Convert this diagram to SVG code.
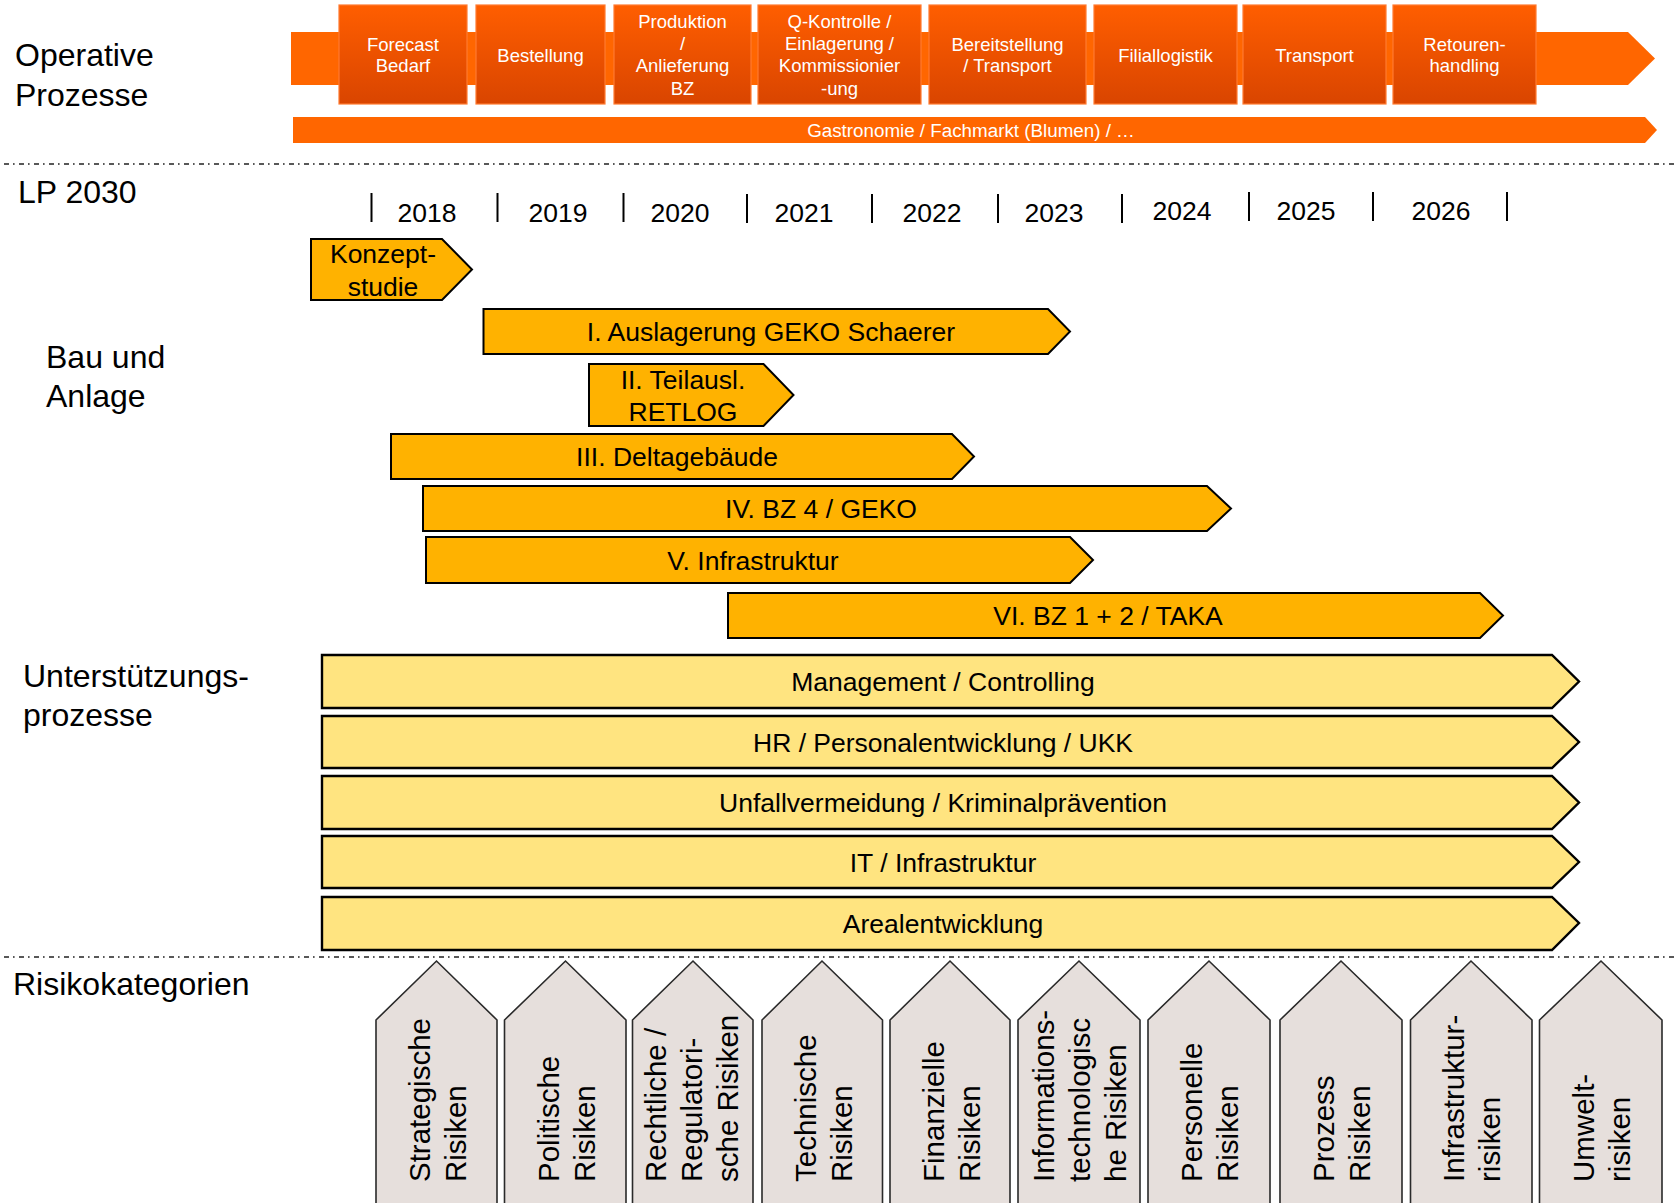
<svg xmlns="http://www.w3.org/2000/svg" width="1674" height="1203" viewBox="0 0 1674 1203">
  <defs>
    <linearGradient id="boxGrad" x1="0" y1="0" x2="0" y2="1">
      <stop offset="0" stop-color="#FF5E00"/>
      <stop offset="1" stop-color="#D94500"/>
    </linearGradient>
    <style>
      text { font-family: "Liberation Sans", Arial, sans-serif; fill: #000; }
      .label { font-size: 32px; }
      .year { font-size: 26.5px; text-anchor: middle; }
      .tick { stroke: #000; stroke-width: 2; }
      .sep { stroke: #222; stroke-width: 1.6; stroke-dasharray: 5 4 1.6 4.4; fill: none; }
      .band { fill: #FF6600; }
      .box { fill: url(#boxGrad); stroke: #FF7A30; stroke-width: 1.2; }
      .boxtxt { font-size: 18.5px; fill: #fff; text-anchor: middle; }
      .gastro { font-size: 18.8px; fill: #fff; text-anchor: middle; }
      .bau { fill: #FFB200; stroke: #000; stroke-width: 2; }
      .sup { fill: #FFE480; stroke: #000; stroke-width: 2.4; }
      .bartxt { font-size: 26.5px; text-anchor: middle; }
      .risk { fill: #E6DFDC; stroke: #2a2a2a; stroke-width: 1.6; }
      .risktxt { font-size: 29.5px; }
    </style>
  </defs>

  <rect width="1674" height="1203" fill="#fff"/>

  <!-- section labels -->
  <g id="section-labels">
    <text class="label" x="15" y="66">Operative</text>
    <text class="label" x="15" y="106">Prozesse</text>
    <text class="label" x="18" y="203">LP 2030</text>
    <text class="label" x="46" y="368">Bau und</text>
    <text class="label" x="46" y="407">Anlage</text>
    <text class="label" x="23" y="687">Unterstützungs-</text>
    <text class="label" x="23" y="726">prozesse</text>
    <text class="label" x="13" y="995">Risikokategorien</text>
  </g>

  <!-- operative process chain -->
  <g id="process-band">
    <polygon class="band" points="291,32 1628,32 1655,58.5 1628,85 291,85"/>
  </g>
  <g id="p-forecast">
    <rect class="box" x="339" y="5" width="128" height="99"/>
    <text class="boxtxt" x="403" y="50.5">Forecast</text>
    <text class="boxtxt" x="403" y="72">Bedarf</text>
  </g>
  <g id="p-bestellung">
    <rect class="box" x="476" y="5" width="129" height="99"/>
    <text class="boxtxt" x="540.5" y="61.5">Bestellung</text>
  </g>
  <g id="p-produktion">
    <rect class="box" x="614" y="5" width="137" height="99"/>
    <text class="boxtxt" x="682.5" y="28">Produktion</text>
    <text class="boxtxt" x="682.5" y="49.5">/</text>
    <text class="boxtxt" x="682.5" y="72">Anlieferung</text>
    <text class="boxtxt" x="682.5" y="94.5">BZ</text>
  </g>
  <g id="p-qkontrolle">
    <rect class="box" x="758" y="5" width="163" height="99"/>
    <text class="boxtxt" x="839.5" y="28">Q-Kontrolle /</text>
    <text class="boxtxt" x="839.5" y="49.5">Einlagerung /</text>
    <text class="boxtxt" x="839.5" y="72">Kommissionier</text>
    <text class="boxtxt" x="839.5" y="94.5">-ung</text>
  </g>
  <g id="p-bereitstellung">
    <rect class="box" x="929" y="5" width="157" height="99"/>
    <text class="boxtxt" x="1007.5" y="50.5">Bereitstellung</text>
    <text class="boxtxt" x="1007.5" y="72">/ Transport</text>
  </g>
  <g id="p-filiallogistik">
    <rect class="box" x="1094" y="5" width="143" height="99"/>
    <text class="boxtxt" x="1165.5" y="61.5">Filiallogistik</text>
  </g>
  <g id="p-transport">
    <rect class="box" x="1243" y="5" width="143" height="99"/>
    <text class="boxtxt" x="1314.5" y="61.5">Transport</text>
  </g>
  <g id="p-retouren">
    <rect class="box" x="1393" y="5" width="143" height="99"/>
    <text class="boxtxt" x="1464.5" y="50.5">Retouren-</text>
    <text class="boxtxt" x="1464.5" y="72">handling</text>
  </g>
  <g id="p-gastronomie">
    <polygon class="band" points="293,117 1645,117 1657,130 1645,143 293,143"/>
    <text class="gastro" x="971" y="136.5">Gastronomie / Fachmarkt (Blumen) / …</text>
  </g>

  <!-- section separators -->
  <g id="separators">
    <line class="sep" x1="4" y1="164" x2="1674" y2="164"/>
    <line class="sep" x1="4" y1="957" x2="1674" y2="957"/>
  </g>

  <!-- timeline -->
  <g id="timeline">
    <line class="tick" x1="371.5" y1="193" x2="371.5" y2="222"/>
    <line class="tick" x1="497.5" y1="193" x2="497.5" y2="222"/>
    <line class="tick" x1="623.5" y1="193" x2="623.5" y2="222"/>
    <line class="tick" x1="747" y1="194" x2="747" y2="223" stroke-width="3"/>
    <line class="tick" x1="872" y1="194" x2="872" y2="223"/>
    <line class="tick" x1="998" y1="194" x2="998" y2="223"/>
    <line class="tick" x1="1122" y1="194" x2="1122" y2="223"/>
    <line class="tick" x1="1249" y1="192" x2="1249" y2="221"/>
    <line class="tick" x1="1373" y1="192" x2="1373" y2="221"/>
    <line class="tick" x1="1507" y1="192" x2="1507" y2="221"/>
    <text class="year" x="427" y="222">2018</text>
    <text class="year" x="558" y="222">2019</text>
    <text class="year" x="680" y="222">2020</text>
    <text class="year" x="804" y="222">2021</text>
    <text class="year" x="932" y="222">2022</text>
    <text class="year" x="1054" y="222">2023</text>
    <text class="year" x="1182" y="220">2024</text>
    <text class="year" x="1306" y="220">2025</text>
    <text class="year" x="1441" y="220">2026</text>
  </g>

  <!-- construction projects -->
  <g id="bau-konzeptstudie">
    <polygon class="bau" points="311,239 442,239 472,269.5 442,300 311,300"/>
    <text class="bartxt" x="383" y="263">Konzept-</text>
    <text class="bartxt" x="383" y="296">studie</text>
  </g>
  <g id="bau-auslagerung">
    <polygon class="bau" points="483.5,309 1048,309 1070,331.5 1048,354 483.5,354"/>
    <text class="bartxt" x="771" y="341">I. Auslagerung GEKO Schaerer</text>
  </g>
  <g id="bau-retlog">
    <polygon class="bau" points="589,364 763.5,364 793.5,395 763.5,426 589,426"/>
    <text class="bartxt" x="683" y="389">II. Teilausl.</text>
    <text class="bartxt" x="683" y="420.5">RETLOG</text>
  </g>
  <g id="bau-deltagebaeude">
    <polygon class="bau" points="391,434 952,434 974,456.5 952,479 391,479"/>
    <text class="bartxt" x="677" y="465.5">III. Deltagebäude</text>
  </g>
  <g id="bau-bz4">
    <polygon class="bau" points="423,486 1207,486 1231,508.5 1207,531 423,531"/>
    <text class="bartxt" x="821" y="518">IV. BZ 4 / GEKO</text>
  </g>
  <g id="bau-infrastruktur">
    <polygon class="bau" points="426,537 1070,537 1093,560 1070,583 426,583"/>
    <text class="bartxt" x="753" y="570">V. Infrastruktur</text>
  </g>
  <g id="bau-bz12">
    <polygon class="bau" points="728,593 1480,593 1503,615.5 1480,638 728,638"/>
    <text class="bartxt" x="1108" y="625">VI. BZ 1 + 2 / TAKA</text>
  </g>

  <!-- support processes -->
  <g id="sup-management">
    <polygon class="sup" points="322,655 1552,655 1579,681.5 1552,708 322,708"/>
    <text class="bartxt" x="943" y="691">Management / Controlling</text>
  </g>
  <g id="sup-hr">
    <polygon class="sup" points="322,716 1552,716 1579,742 1552,768 322,768"/>
    <text class="bartxt" x="943" y="751.5">HR / Personalentwicklung / UKK</text>
  </g>
  <g id="sup-unfall">
    <polygon class="sup" points="322,776 1552,776 1579,802.5 1552,829 322,829"/>
    <text class="bartxt" x="943" y="812">Unfallvermeidung / Kriminalprävention</text>
  </g>
  <g id="sup-it">
    <polygon class="sup" points="322,836 1552,836 1579,862 1552,888 322,888"/>
    <text class="bartxt" x="943" y="871.5">IT / Infrastruktur</text>
  </g>
  <g id="sup-areal">
    <polygon class="sup" points="322,897 1552,897 1579,923 1552,950 322,950"/>
    <text class="bartxt" x="943" y="933">Arealentwicklung</text>
  </g>

  <!-- risk categories: upward pointing tags, text reads bottom to top -->
  <g id="risk-strategisch">
    <path class="risk" d="M376,1210 V1020 L436.5,961 L497,1020 V1210"/>
    <text class="risktxt" transform="translate(430,1182) rotate(-90)">Strategische</text>
    <text class="risktxt" transform="translate(466,1182) rotate(-90)">Risiken</text>
  </g>
  <g id="risk-politisch">
    <path class="risk" d="M504.5,1210 V1020 L565.5,961 L626,1020 V1210"/>
    <text class="risktxt" transform="translate(559,1182) rotate(-90)">Politische</text>
    <text class="risktxt" transform="translate(595,1182) rotate(-90)">Risiken</text>
  </g>
  <g id="risk-rechtlich">
    <path class="risk" d="M632.5,1210 V1020 L693,961 L753,1020 V1210"/>
    <text class="risktxt" transform="translate(666,1182) rotate(-90)">Rechtliche /</text>
    <text class="risktxt" transform="translate(702,1182) rotate(-90)">Regulatori-</text>
    <text class="risktxt" transform="translate(738,1182) rotate(-90)">sche Risiken</text>
  </g>
  <g id="risk-technisch">
    <path class="risk" d="M762,1210 V1020 L822,961 L882.5,1020 V1210"/>
    <text class="risktxt" transform="translate(816,1182) rotate(-90)">Technische</text>
    <text class="risktxt" transform="translate(852,1182) rotate(-90)">Risiken</text>
  </g>
  <g id="risk-finanziell">
    <path class="risk" d="M890,1210 V1020 L950,961 L1010,1020 V1210"/>
    <text class="risktxt" transform="translate(944,1182) rotate(-90)">Finanzielle</text>
    <text class="risktxt" transform="translate(980,1182) rotate(-90)">Risiken</text>
  </g>
  <g id="risk-it">
    <path class="risk" d="M1018,1210 V1020 L1079,961 L1140,1020 V1210"/>
    <text class="risktxt" transform="translate(1054,1182) rotate(-90)">Informations-</text>
    <text class="risktxt" transform="translate(1090,1182) rotate(-90)">technologisc</text>
    <text class="risktxt" transform="translate(1126,1182) rotate(-90)">he Risiken</text>
  </g>
  <g id="risk-personell">
    <path class="risk" d="M1148,1210 V1020 L1209,961 L1270,1020 V1210"/>
    <text class="risktxt" transform="translate(1202,1182) rotate(-90)">Personelle</text>
    <text class="risktxt" transform="translate(1238,1182) rotate(-90)">Risiken</text>
  </g>
  <g id="risk-prozess">
    <path class="risk" d="M1280,1210 V1020 L1341,961 L1402,1020 V1210"/>
    <text class="risktxt" transform="translate(1334,1182) rotate(-90)">Prozess</text>
    <text class="risktxt" transform="translate(1370,1182) rotate(-90)">Risiken</text>
  </g>
  <g id="risk-infrastruktur">
    <path class="risk" d="M1410.5,1210 V1020 L1471,961 L1532,1020 V1210"/>
    <text class="risktxt" transform="translate(1464,1182) rotate(-90)">Infrastruktur-</text>
    <text class="risktxt" transform="translate(1500,1182) rotate(-90)">risiken</text>
  </g>
  <g id="risk-umwelt">
    <path class="risk" d="M1539.5,1210 V1020 L1601,961 L1662,1020 V1210"/>
    <text class="risktxt" transform="translate(1594,1182) rotate(-90)">Umwelt-</text>
    <text class="risktxt" transform="translate(1630,1182) rotate(-90)">risiken</text>
  </g>
</svg>
